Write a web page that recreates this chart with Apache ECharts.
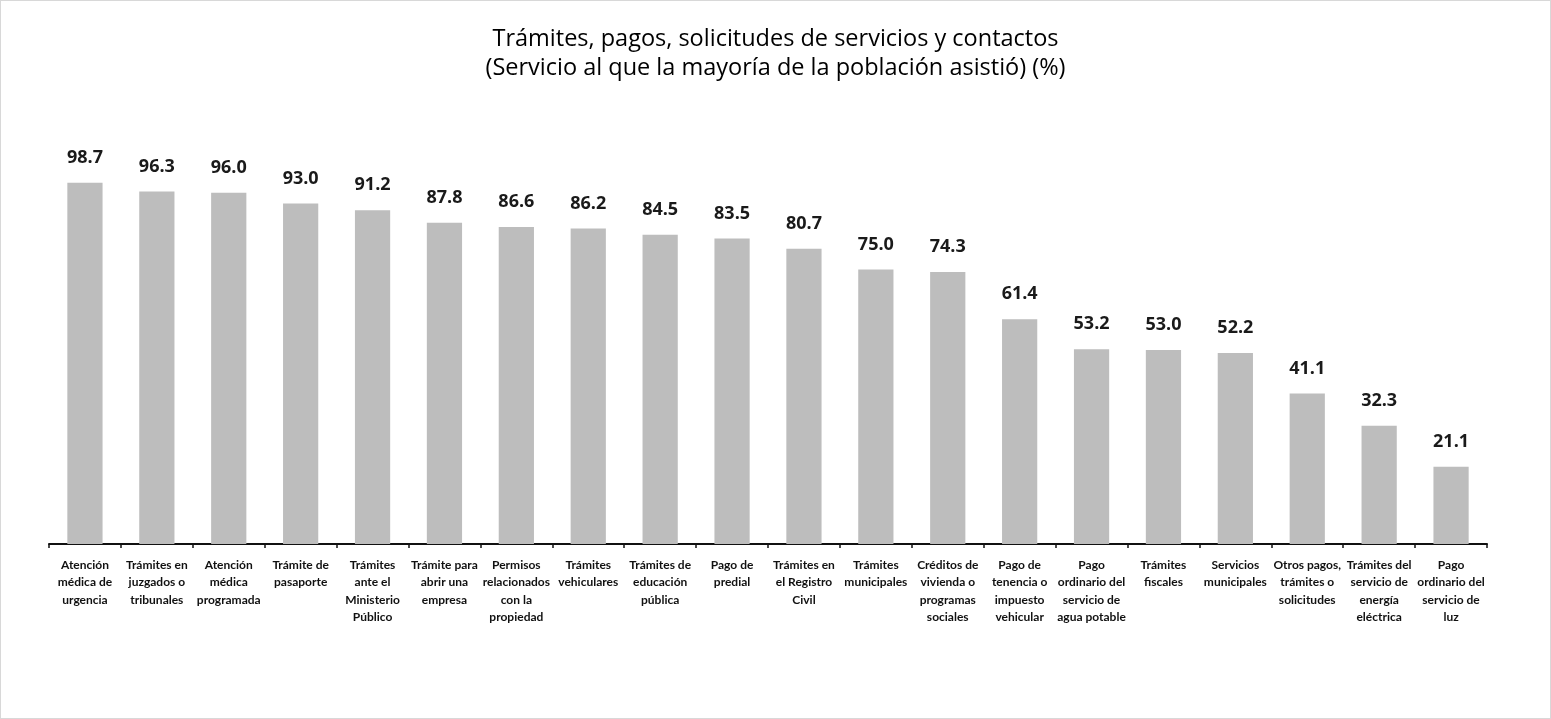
<!DOCTYPE html>
<html><head><meta charset="utf-8">
<script src="https://cdn.jsdelivr.net/npm/echarts@6/dist/echarts.min.js"></script>
<style>html,body{margin:0;padding:0;background:#fff}#c{width:1551px;height:719px;box-sizing:border-box;border:1px solid #d8d8d8}</style>
</head><body><div id="c"></div>
<script>
const titleLines = ["Trámites, pagos, solicitudes de servicios y contactos", "(Servicio al que la mayoría de la población asistió) (%)"];
const categories = [
  "Atención\nmédica de\nurgencia",
  "Trámites en\njuzgados o\ntribunales",
  "Atención\nmédica\nprogramada",
  "Trámite de\npasaporte",
  "Trámites\nante el\nMinisterio\nPúblico",
  "Trámite para\nabrir una\nempresa",
  "Permisos\nrelacionados\ncon la\npropiedad",
  "Trámites\nvehiculares",
  "Trámites de\neducación\npública",
  "Pago de\npredial",
  "Trámites en\nel Registro\nCivil",
  "Trámites\nmunicipales",
  "Créditos de\nvivienda o\nprogramas\nsociales",
  "Pago de\ntenencia o\nimpuesto\nvehicular",
  "Pago\nordinario del\nservicio de\nagua potable",
  "Trámites\nfiscales",
  "Servicios\nmunicipales",
  "Otros pagos,\ntrámites o\nsolicitudes",
  "Trámites del\nservicio de\nenergía\neléctrica",
  "Pago\nordinario del\nservicio de\nluz"
];
const values = [98.7, 96.3, 96.0, 93.0, 91.2, 87.8, 86.6, 86.2, 84.5, 83.5, 80.7, 75.0, 74.3, 61.4, 53.2, 53.0, 52.2, 41.1, 32.3, 21.1];

const chart = echarts.init(document.getElementById('c'));
chart.setOption({
  animation: false,
  backgroundColor: '#fff',
  title: {
    text: titleLines.join('\n'),
    left: 'center', top: 19,
    textStyle: {fontFamily: 'Open Sans', fontSize: 23.5, fontWeight: 'normal', color: '#000', lineHeight: 29}
  },
  grid: {left: 48, right: 63, top: 177, bottom: 174, containLabel: false},
  xAxis: {
    type: 'category', data: categories,
    axisLine: {lineStyle: {color: '#111', width: 2}},
    axisTick: {show: true, length: 4, lineStyle: {color: '#111', width: 1.5}},
    axisLabel: {interval: 0, fontFamily: 'Lato', fontWeight: 'bold', fontSize: 12, color: '#111', lineHeight: 17.5, margin: 12}
  },
  yAxis: {type: 'value', min: 0, max: 100, show: false, splitLine: {show: false}},
  series: [{
    type: 'bar', data: values, barWidth: '49%',
    itemStyle: {color: '#bdbdbd'},
    label: {show: true, position: 'top', distance: 16, formatter: p => p.value.toFixed(1),
      fontFamily: 'Open Sans', fontWeight: 'bold', fontSize: 18, color: '#1a1a1a'}
  }]
});
</script></body></html>
